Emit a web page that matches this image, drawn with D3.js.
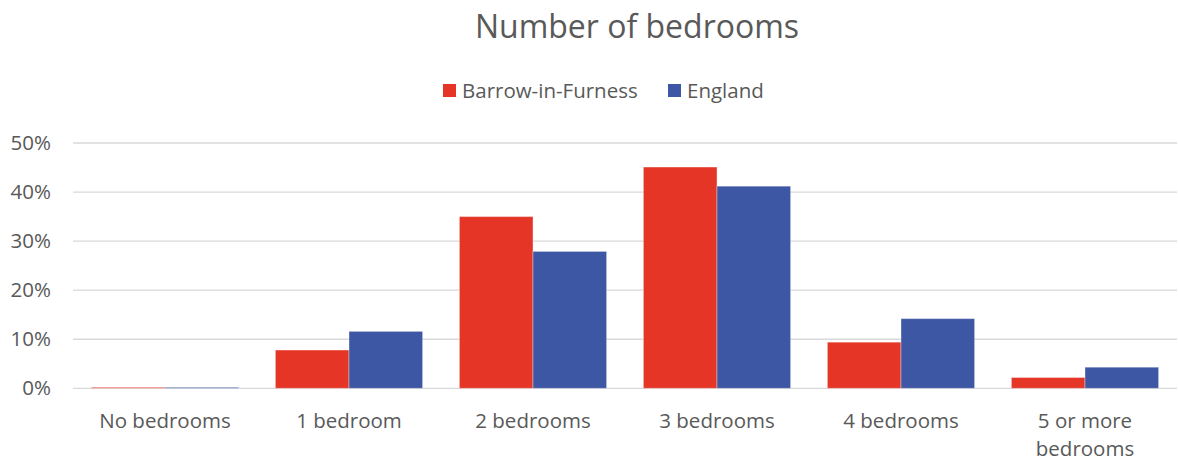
<!DOCTYPE html>
<html><head><meta charset="utf-8">
<script src="https://cdn.jsdelivr.net/npm/d3@7"></script>
<style>body{margin:0;background:#fff}svg{display:block}</style>
</head><body>
<svg id="c" width="1178" height="462"></svg>
<script>
const categories = ["No bedrooms", "1 bedroom", "2 bedrooms", "3 bedrooms", "4 bedrooms", "5 or more bedrooms"];
const seriesNames = ["Barrow-in-Furness", "England"];
const barrow = [0.2, 7.8, 35.0, 45.1, 9.4, 2.2];
const england = [0.2, 11.6, 27.9, 41.2, 14.2, 4.3];
const yTicks = [0, 10, 20, 30, 40, 50];
const colors = ["#E43526", "#3D57A4"];

(function () {
const font = "'Open Sans', sans-serif";
const textColor = "#595959";
const svg = d3.select("#c");
const pLeft = 73, pRight = 1177, pTop = 143, pBottom = 388.3;

const x = d3.scaleBand().domain(categories).range([pLeft, pRight]).paddingInner(0.2).paddingOuter(0.1);
const xs = d3.scaleBand().domain(seriesNames).range([0, x.bandwidth()]);
const y = d3.scaleLinear().domain([0, 50]).range([pBottom, pTop]);

// gridlines
svg.append("g").selectAll("line").data(yTicks).join("line")
  .attr("x1", pLeft).attr("x2", pRight)
  .attr("y1", d => y(d)).attr("y2", d => y(d))
  .attr("stroke", "#d9d9d9").attr("stroke-width", 1.3);

// y labels
const yAxis = d3.axisLeft(y).tickValues(yTicks).tickFormat(d => d + "%").tickSize(0).tickPadding(0);
const ya = svg.append("g").attr("transform", `translate(51,0)`).call(yAxis);
ya.select(".domain").remove();
ya.selectAll("text").attr("font-family", font).attr("font-size", 20.5).attr("fill", textColor);

// bars
const data = [barrow, england];
data.forEach((vals, si) => {
  svg.append("g").selectAll("rect").data(vals).join("rect")
    .attr("x", (d, i) => x(categories[i]) + xs(seriesNames[si]))
    .attr("width", xs.bandwidth())
    .attr("y", d => y(d))
    .attr("height", d => y(0) - y(d))
    .attr("fill", colors[si])
    .attr("stroke", "rgba(255,255,255,0.35)").attr("stroke-width", 1);
});

// x labels
const xa = svg.append("g");
categories.forEach(c => {
  const lines = c === "5 or more bedrooms" ? ["5 or more", "bedrooms"] : [c];
  const t = xa.append("text").attr("x", x(c) + x.bandwidth() / 2).attr("y", 427.5)
    .attr("text-anchor", "middle").attr("font-family", font).attr("font-size", 20.5).attr("fill", textColor);
  lines.forEach((l, i) => t.append("tspan").attr("x", x(c) + x.bandwidth() / 2).attr("dy", i ? 28.5 : 0).text(l));
});

// title
svg.append("text").attr("x", 637).attr("y", 38).attr("text-anchor", "middle")
  .attr("font-family", font).attr("font-size", 32).attr("fill", textColor).text("Number of bedrooms");

// legend
const legX = [443, 668];
seriesNames.forEach((s, i) => {
  svg.append("rect").attr("x", legX[i]).attr("y", 84).attr("width", 13).attr("height", 13).attr("fill", colors[i]);
  svg.append("text").attr("x", legX[i] + 19).attr("y", 98).attr("font-family", font).attr("font-size", 20.5)
    .attr("fill", textColor).text(s);
});
})();
</script>
</body></html>
